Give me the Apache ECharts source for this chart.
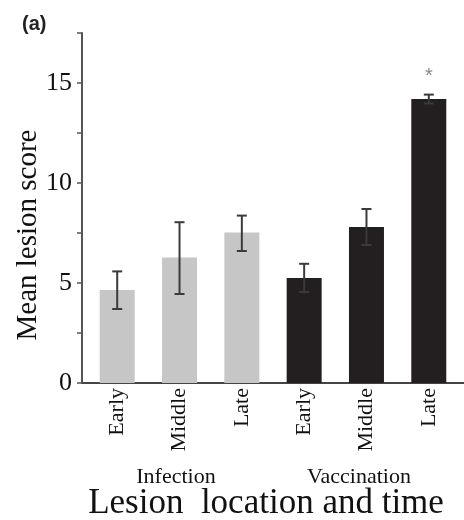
<!DOCTYPE html>
<html>
<head>
<meta charset="utf-8">
<style>html,body{margin:0;padding:0;background:#fff;}#c{width:464px;height:520px;}</style>
<script src="https://cdn.jsdelivr.net/npm/echarts@6/dist/echarts.min.js"></script>
</head>
<body>
<div id="c"></div>
<script>
var categories = ['Early', 'Middle', 'Late', 'Early', 'Middle', 'Late'];
var groupNames = ['Infection', 'Vaccination'];
var means = [4.65, 6.28, 7.53, 5.25, 7.8, 14.2];
var errLow = [3.7, 4.45, 6.6, 4.55, 6.9, 13.98];
var errHigh = [5.58, 8.04, 8.37, 5.96, 8.7, 14.42];
var marks = ['', '', '', '', '', '*'];
var yTicks = [0, 5, 10, 15];

var barColors = ['#c6c6c6', '#c6c6c6', '#c6c6c6', '#231f20', '#231f20', '#231f20'];
var serif = '"Liberation Serif", "DejaVu Serif", serif';

var chart = echarts.init(document.getElementById('c'));
var barData = means.map(function (v, i) {
  return { value: [i, v], itemStyle: { color: barColors[i] } };
});
var errData = means.map(function (v, i) { return [i, errLow[i], errHigh[i], marks[i]]; });

chart.setOption({
  animation: false,
  backgroundColor: '#fff',
  grid: { left: 82, right: 0, top: 33, bottom: 137, containLabel: false, outerBoundsMode: 'none' },
  xAxis: {
    type: 'value',
    min: -0.565,
    max: 5.565,
    splitLine: { show: false },
    axisLine: { show: true, onZero: false, lineStyle: { color: '#444', width: 2 } },
    axisTick: { show: false },
    axisLabel: {
      customValues: [0, 1, 2, 3, 4, 5],
      rotate: 90,
      margin: 5,
      fontFamily: serif,
      fontSize: 22,
      color: '#111',
      formatter: function (v) { return categories[Math.round(v)]; }
    }
  },
  yAxis: {
    type: 'value',
    min: 0,
    max: 17.5,
    interval: 2.5,
    splitLine: { show: false },
    axisLine: { show: true, onZero: false, lineStyle: { color: '#555', width: 2 } },
    axisTick: { show: true, length: 5, lineStyle: { color: '#555', width: 1.5 } },
    axisLabel: {
      margin: 10,
      fontFamily: serif,
      fontSize: 26,
      color: '#111',
      formatter: function (v) { return yTicks.indexOf(v) >= 0 ? String(v) : ''; }
    }
  },
  series: [
    {
      type: 'bar',
      data: barData,
      barWidth: 35,
      z: 2
    },
    {
      type: 'custom',
      z: 3,
      data: errData,
      renderItem: function (params, api) {
        var x = api.value(0);
        var lo = api.coord([x, api.value(1)]);
        var hi = api.coord([x, api.value(2)]);
        var hw = 5;
        var st = { stroke: '#3a3a3a', lineWidth: 2 };
        var children = [
          { type: 'line', shape: { x1: lo[0], y1: lo[1], x2: hi[0], y2: hi[1] }, style: st },
          { type: 'line', shape: { x1: lo[0] - hw, y1: lo[1], x2: lo[0] + hw, y2: lo[1] }, style: st },
          { type: 'line', shape: { x1: hi[0] - hw, y1: hi[1], x2: hi[0] + hw, y2: hi[1] }, style: st }
        ];
        var m = api.value(3);
        if (m) {
          children.push({
            type: 'text',
            style: {
              text: m, x: hi[0], y: hi[1] - 18,
              align: 'center', verticalAlign: 'middle',
              fontSize: 20, fontFamily: 'Liberation Sans, sans-serif', fill: '#8a8a8a'
            }
          });
        }
        return { type: 'group', children: children };
      }
    }
  ],
  graphic: [
    { type: 'text', left: 22, top: 14, style: { text: '(a)', fontFamily: 'Liberation Sans, Arial, sans-serif', fontWeight: 'bold', fontSize: 20, fill: '#222' } },
    { type: 'text', x: 28, y: 235, rotation: Math.PI / 2, style: { text: 'Mean lesion score', align: 'center', verticalAlign: 'middle', fontFamily: serif, fontSize: 29, fill: '#111' } },
    { type: 'text', x: 176, y: 477, style: { text: groupNames[0], align: 'center', verticalAlign: 'middle', fontFamily: serif, fontSize: 22, fill: '#111' } },
    { type: 'text', x: 359, y: 477, style: { text: groupNames[1], align: 'center', verticalAlign: 'middle', fontFamily: serif, fontSize: 22, fill: '#111' } },
    { type: 'text', x: 266, y: 504, style: { text: 'Lesion  location and time', align: 'center', verticalAlign: 'middle', fontFamily: serif, fontSize: 35, fill: '#111' } }
  ]
});
</script>
</body>
</html>
